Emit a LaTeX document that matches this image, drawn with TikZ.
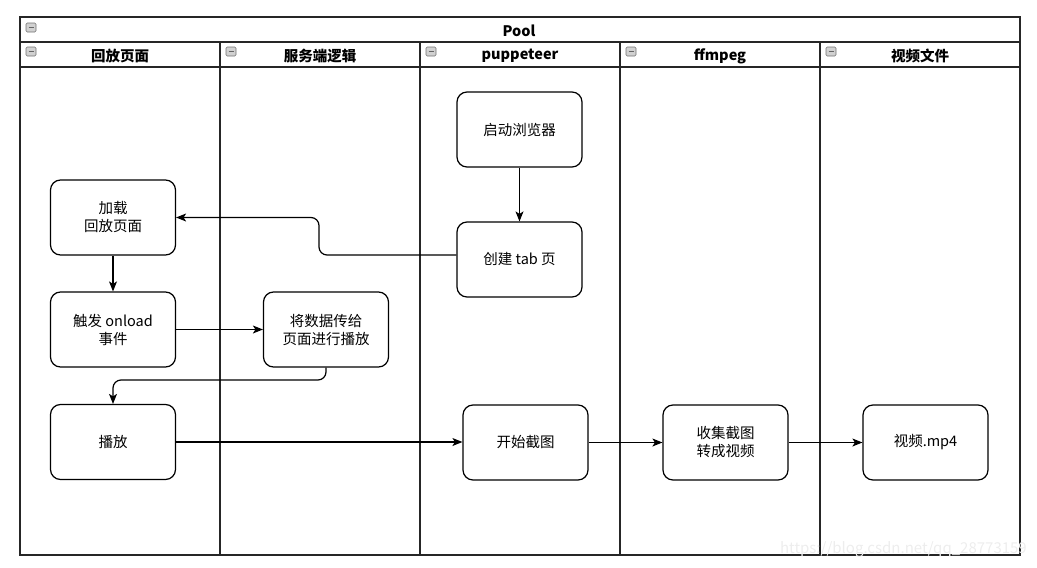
\documentclass[tikz,border=0pt]{standalone}
\usepackage{fontspec}
\setmainfont{Noto Sans CJK SC}
\usetikzlibrary{arrows.meta}
\begin{document}
\begin{tikzpicture}[x=1pt,y=-1pt,
  frame/.style={draw=black!85,line width=1.3pt},
  hdr/.style={font=\fontsize{14.5}{17}\selectfont\bfseries,anchor=center,inner sep=0pt},
  icon/.style={draw=black!55,fill=black!18,rounded corners=1.2pt,line width=0.6pt},
  box/.style={draw=black,line width=1.2pt,rounded corners=10pt,minimum width=125pt,minimum height=75pt,align=center,inner sep=2pt,font=\fontsize{14.5}{18}\selectfont},
  conn/.style={draw=black,line width=1.2pt,rounded corners=8pt,-{Stealth[length=10pt,width=8pt,inset=2.5pt]}}
]
\useasboundingbox (0,0) rectangle (1037,568);
% pool frame
\draw[frame] (20,17) rectangle (1020,555);
\draw[frame] (20,42) -- (1020,42);
\draw[frame] (20,67) -- (1020,67);
\foreach \x in {220,420,620,820} \draw[frame] (\x,42) -- (\x,555);
% header texts
\node[hdr] (pool) at (519,31) {Pool};
\node[hdr] (l1) at (120,56) {回放页面};
\node[hdr] (l2) at (320,56) {服务端逻辑};
\node[hdr] (l3) at (520,56) {puppeteer};
\node[hdr] (l4) at (720,56) {ffmpeg};
\node[hdr] (l5) at (920,56) {视频文件};
% collapse icons
\foreach \x/\y in {26/23,26/47,226/47,426/47,626/47,826/47}{
  \draw[icon] (\x,\y) rectangle ++(10,9);
  \draw[black!60,line width=0.8pt] (\x+2.5,\y+4.5) -- ++(5,0);
}
% nodes
\node[box] (start) at (519.5,129.5) {启动浏览器};
\node[box] (tab) at (519.5,259.5) {创建 tab 页};
\node[box] (load) at (113,217.5) {加载\\回放页面};
\node[box] (onload) at (113,329.5) {触发 onload\\事件};
\node[box] (pass) at (326,329.5) {将数据传给\\页面进行播放};
\node[box] (play) at (113,442) {播放};
\node[box] (shot) at (525.5,442.5) {开始截图};
\node[box] (conv) at (725.5,442.5) {收集截图\\转成视频};
\node[box] (mp4) at (925.5,442.5) {视频.mp4};
% connectors
\coordinate (tabout) at ([yshift=4.5pt]tab.west);
\draw[conn] (start) -- (tab);
\draw[conn] (tabout) -- (319,255) -- (319,217.5) -- (load.east);
\draw[conn] (load) -- (onload);
\draw[conn] (onload) -- (pass);
\draw[conn] (pass.south) -- (326,380) -- (113,380) -- (play.north);
\draw[conn] (play.east) -- (shot.west |- play.east);
\draw[conn] (shot) -- (conv);
\draw[conn] (conv) -- (mp4);
% watermark
\node[text=black!7,font=\fontsize{15}{15}\selectfont,anchor=east,inner sep=0pt] (wm) at (1027,549) {https://blog.csdn.net/qq\_28773159};
\end{tikzpicture}
\end{document}
